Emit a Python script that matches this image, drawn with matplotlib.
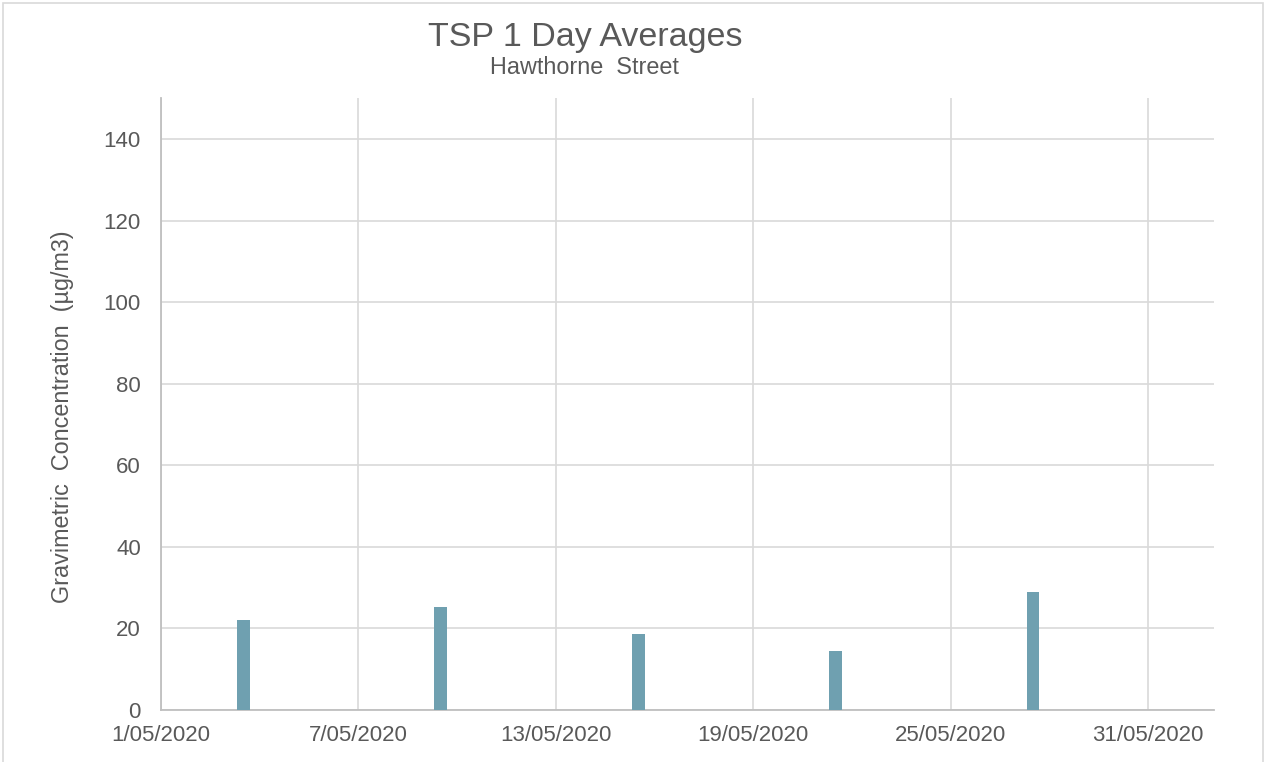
import matplotlib
matplotlib.use('Agg')
import matplotlib.pyplot as plt
import matplotlib.dates as mdates
from matplotlib.patches import Rectangle
import datetime as dt

plt.rcParams['font.family'] = ['Liberation Sans', 'DejaVu Sans']

# sample days and TSP 1-day averages (ug/m3)
sample_dates = ['2020-05-03', '2020-05-09', '2020-05-15', '2020-05-21', '2020-05-27']
tsp_values = [22.1, 25.2, 18.6, 14.5, 28.9]
tick_dates = ['2020-05-01', '2020-05-07', '2020-05-13', '2020-05-19', '2020-05-25', '2020-05-31']
y_ticks = [0, 20, 40, 60, 80, 100, 120, 140]

text_col = '#595959'
grid_col = '#D9D9D9'
bar_col = '#6FA0B0'

days = [dt.datetime.strptime(d, '%Y-%m-%d') for d in sample_dates]
ticks = [dt.datetime.strptime(d, '%Y-%m-%d') for d in tick_dates]
# excel style date axis: each day occupies a slot, bar sits in the middle
bar_x = [mdates.date2num(d) + 0.5 for d in days]

fig = plt.figure(figsize=(12.66, 7.62), dpi=100)
ax = fig.add_axes([0.1272, 0.0682, 0.9589 - 0.1272, 0.871 - 0.0682])

ax.bar(bar_x, tsp_values, width=0.39, color=bar_col, zorder=3)

ax.set_xlim(mdates.date2num(ticks[0]), mdates.date2num(ticks[0]) + 32)
ax.set_ylim(0, 150)
ax.set_xticks([mdates.date2num(t) for t in ticks])
ax.set_xticklabels([f'{t.day}/{t.month:02d}/{t.year}' for t in ticks])
ax.set_yticks(y_ticks)

ax.grid(True, color=grid_col, linewidth=1.2, zorder=0)
ax.tick_params(axis='both', length=0, labelsize=16, colors=text_col)
ax.tick_params(axis='x', pad=11)
ax.tick_params(axis='y', pad=14.5)

for side in ['top', 'right']:
    ax.spines[side].set_visible(False)
for side in ['left', 'bottom']:
    ax.spines[side].set_color('#BFBFBF')
    ax.spines[side].set_linewidth(1.3)

ax.set_ylabel('Gravimetric  Concentration  (µg/m3)', fontsize=16.8,
              color=text_col)
ax.yaxis.set_label_coords(-0.0823, 0.479)

fig.text(0.462, 0.94, 'TSP 1 Day Averages', ha='center', va='baseline',
         fontsize=24.5, color=text_col)
fig.text(0.462, 0.903, 'Hawthorne  Street', ha='center', va='baseline',
         fontsize=16.8, color=text_col)

# chart area border
fig.patches.append(Rectangle((0.002, -0.05), 0.996, 1.046, transform=fig.transFigure,
                             fill=False, edgecolor='#D9D9D9', linewidth=1.2))

fig.savefig('out.png', dpi=100)
